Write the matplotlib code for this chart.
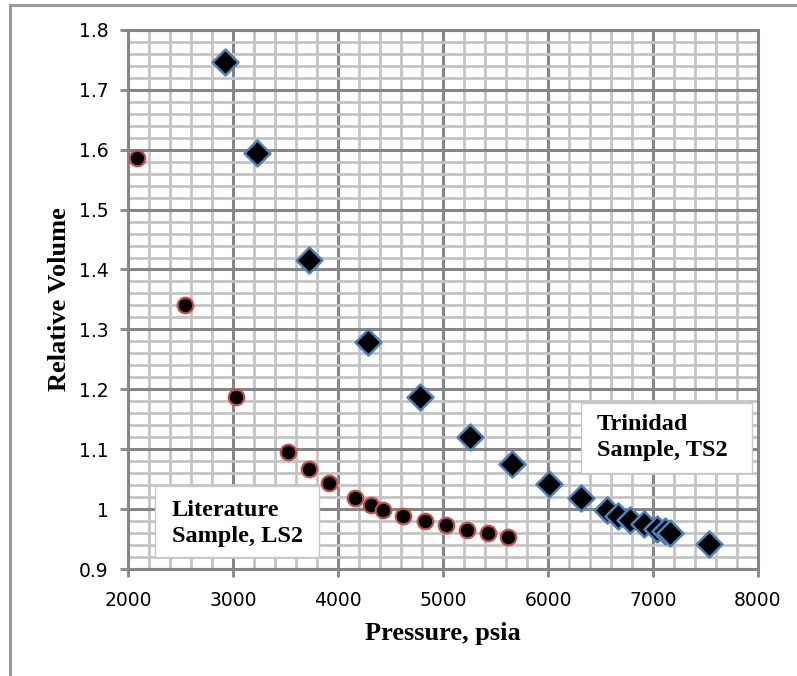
import matplotlib.pyplot as plt
from matplotlib.ticker import MultipleLocator
from matplotlib.lines import Line2D
from matplotlib.patches import Rectangle

# Literature sample LS2
ls2_pressure = [2080, 2540, 3030, 3520, 3720, 3910, 4160, 4310, 4430, 4620,
                4825, 5025, 5230, 5430, 5615]
ls2_volume = [1.586, 1.340, 1.187, 1.095, 1.067, 1.044, 1.019, 1.007, 0.999,
              0.989, 0.980, 0.974, 0.966, 0.960, 0.954]

# Trinidad sample TS2
ts2_pressure = [2920, 3230, 3720, 4280, 4780, 5260, 5660, 6010, 6310, 6560,
                6670, 6780, 6910, 7040, 7110, 7160, 7530]
ts2_volume = [1.746, 1.594, 1.416, 1.279, 1.187, 1.120, 1.075, 1.042, 1.018,
              0.999, 0.989, 0.982, 0.976, 0.967, 0.963, 0.961, 0.942]

x_ticks = [2000, 3000, 4000, 5000, 6000, 7000, 8000]
y_ticks = [0.9, 1.0, 1.1, 1.2, 1.3, 1.4, 1.5, 1.6, 1.7, 1.8]
y_tick_labels = ["0.9", "1", "1.1", "1.2", "1.3", "1.4", "1.5", "1.6", "1.7", "1.8"]

fig = plt.figure(figsize=(7.97, 6.76), dpi=100)
ax = fig.add_axes([0.161, 0.158, 0.790, 0.798])

# grid: light minor lines, darker major lines
ax.xaxis.set_minor_locator(MultipleLocator(200))
ax.yaxis.set_minor_locator(MultipleLocator(0.02))
ax.grid(True, which="minor", color="#c4c4c4", linewidth=2.0, zorder=0)
ax.grid(True, which="major", color="#868686", linewidth=2.2, zorder=0)
ax.set_axisbelow(True)

ax.scatter(ls2_pressure, ls2_volume, marker="o", s=125, facecolor="black",
           edgecolor="#c0504d", linewidth=1.6, zorder=3, clip_on=False)
ax.scatter(ts2_pressure, ts2_volume, marker="D", s=175, facecolor="black",
           edgecolor="#4f81bd", linewidth=1.8, zorder=3, clip_on=False)

ax.set_xlim(2000, 8000)
ax.set_ylim(0.9, 1.8)
ax.set_xticks(x_ticks)
ax.set_yticks(y_ticks)
ax.set_yticklabels(y_tick_labels)
ax.tick_params(axis="both", which="major", direction="out", length=6, width=2,
               color="#868686", labelsize=13.5)
ax.tick_params(axis="x", which="major", pad=10)
ax.tick_params(axis="y", which="major", pad=8)
ax.tick_params(axis="both", which="minor", length=0)

for side in ["left", "bottom", "top", "right"]:
    ax.spines[side].set_color("#868686")
    ax.spines[side].set_linewidth(2.2)

ax.set_xlabel("Pressure, psia", family="Liberation Serif", fontweight="bold",
              fontsize=19, labelpad=8)
ax.set_ylabel("Relative Volume", family="Liberation Serif", fontweight="bold",
              fontsize=19, labelpad=6)

# annotation boxes
ax.add_patch(Rectangle((0.043, 0.022), 0.260, 0.132, transform=ax.transAxes,
                       facecolor="white", edgecolor="#c8c8c8", linewidth=1,
                       zorder=4))
ax.text(0.069, 0.085, "Literature\nSample, LS2", transform=ax.transAxes,
        family="Liberation Serif", fontweight="bold", fontsize=17.5,
        ha="left", va="center", linespacing=1.3, zorder=5)

ax.add_patch(Rectangle((0.719, 0.179), 0.272, 0.130, transform=ax.transAxes,
                       facecolor="white", edgecolor="#c8c8c8", linewidth=1,
                       zorder=4))
ax.text(0.744, 0.244, "Trinidad\nSample, TS2", transform=ax.transAxes,
        family="Liberation Serif", fontweight="bold", fontsize=17.5,
        ha="left", va="center", linespacing=1.3, zorder=5)

# outer frame lines (left and top)
fig.add_artist(Line2D([10 / 797, 10 / 797], [0, 1 - 5 / 676],
                      color="#9a9a9a", linewidth=2.2))
fig.add_artist(Line2D([10 / 797, 1], [1 - 5 / 676, 1 - 5 / 676],
                      color="#9a9a9a", linewidth=2.2))

fig.savefig("out.png", dpi=100)
